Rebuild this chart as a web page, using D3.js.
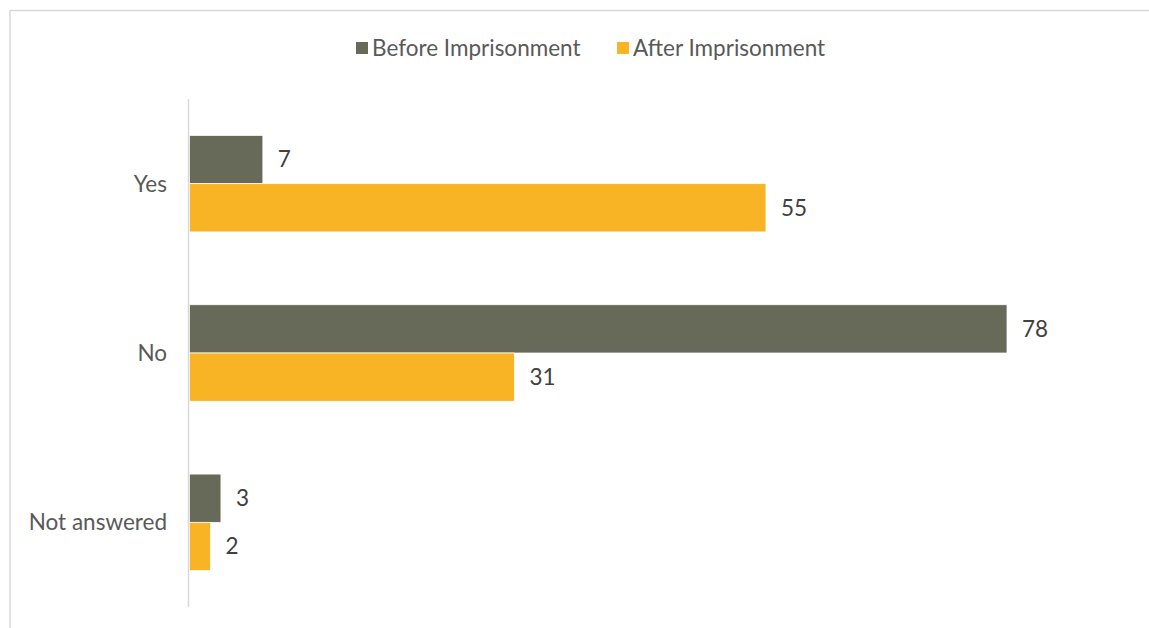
<!DOCTYPE html>
<html><head><meta charset="utf-8">
<script src="https://cdn.jsdelivr.net/npm/d3@7"></script>
<style>html,body{margin:0;padding:0;background:#fff;}svg{display:block;}</style>
</head><body>
<script>
const categories = ["Yes", "No", "Not answered"];
const seriesNames = ["Before Imprisonment", "After Imprisonment"];
const beforeValues = [7, 78, 3];
const afterValues = [55, 31, 2];
const colors = ["#676A58", "#F8B424"];

const W = 1149, H = 628;
const svg = d3.select("body").append("svg").attr("width", W).attr("height", H);
const font = "Lato, 'Open Sans', sans-serif";
const fs = "22.5px";

// chart frame
svg.append("path").attr("d", `M10,${H} L10,10.5 L${W},10.5`)
  .attr("fill", "none").attr("stroke", "#D9D9D9").attr("stroke-width", 1.5);

const x0 = 189.5;
const x = d3.scaleLinear().domain([0, 78]).range([x0, 1007]);
const y = d3.scaleBand().domain(categories).range([99, 607]).paddingInner(0.43).paddingOuter(0.215);
const ys = d3.scaleBand().domain(seriesNames).range([0, y.bandwidth()]);

const data = categories.map((c, i) => ({cat: c, vals: [beforeValues[i], afterValues[i]]}));

const g = svg.append("g");
data.forEach(d => {
  d.vals.forEach((v, j) => {
    const yy = y(d.cat) + ys(seriesNames[j]);
    g.append("rect").attr("x", x(0)).attr("y", yy)
      .attr("width", x(v) - x(0)).attr("height", ys.bandwidth())
      .attr("fill", colors[j]).attr("stroke", "#fff").attr("stroke-width", 0.75);
    g.append("text").attr("x", x(v) + 15).attr("y", yy + ys.bandwidth() / 2)
      .attr("dy", "0.35em").attr("fill", "#404040")
      .style("font-family", font).style("font-size", fs).text(v);
  });
  g.append("text").attr("x", 167).attr("y", y(d.cat) + y.bandwidth() / 2)
    .attr("dy", "0.35em").attr("text-anchor", "end").attr("fill", "#595959")
    .style("font-family", font).style("font-size", fs).text(d.cat);
});

// axis line
svg.append("line").attr("x1", x0 - 1).attr("x2", x0 - 1).attr("y1", 99).attr("y2", 607)
  .attr("stroke", "#D9D9D9").attr("stroke-width", 1.5);

// legend
const legX = [356, 617];
seriesNames.forEach((s, j) => {
  const lg = svg.append("g").attr("transform", `translate(${legX[j]},48)`);
  lg.append("rect").attr("x", 0).attr("y", -6).attr("width", 12).attr("height", 12).attr("fill", colors[j]);
  lg.append("text").attr("x", 16).attr("y", 0).attr("dy", "0.35em").attr("fill", "#595959")
    .style("font-family", font).style("font-size", fs).text(s);
});
</script>
</body></html>
